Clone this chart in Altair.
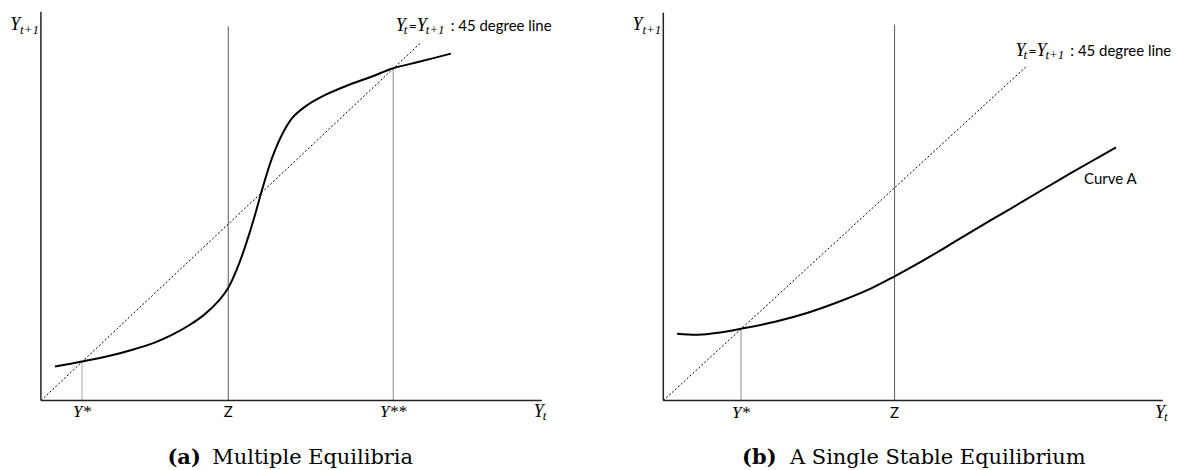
import altair as alt
import pandas as pd

# ---- panel (a): multiple equilibria (units chosen so the 45 degree line is y = x)
a_curve_x = [3.7, 10.8, 18.1, 24.1, 29.9, 34.6, 39.1, 43.0, 47.0, 49.3, 52.2, 54.9,
             56.7, 58.0, 60.9, 63.5, 66.1, 69.8, 75.1, 81.1, 87.1, 92.7, 99.5, 107.9]
a_curve_y = [9.5, 10.9, 12.5, 14.2, 16.2, 18.4, 21.1, 24.0, 28.1, 31.5, 38.4, 46.8,
             53.2, 58.2, 68.0, 74.4, 78.9, 82.3, 85.5, 88.2, 90.5, 92.8, 94.6, 96.9]
a_ticks = ["Y*", "Z", "Y**"]
a_tick_x = [10.8, 49.3, 92.7]
a_guide_top = [10.9, 104.5, 92.8]
a_guide_color = ["#a6a6a6", "#595959", "#8c8c8c"]
a_axis_end = (131.8, 108.6)
a_caption = ["(a)", "Multiple Equilibria"]

# ---- panel (b): a single stable equilibrium
b_curve_x = [3.8, 9.6, 15.1, 21.4, 30.8, 39.8, 48.9, 57.1, 63.7, 72.0, 81.0, 90.1,
             99.5, 108.5, 117.6, 124.7]
b_curve_y = [20.0, 19.7, 20.3, 21.5, 23.6, 26.3, 29.8, 33.5, 37.2, 42.2, 48.0, 53.9,
             59.9, 65.7, 71.4, 75.8]
b_ticks = ["Y*", "Z"]
b_tick_x = [21.4, 63.7]
b_guide_top = [21.5, 112.5]
b_guide_color = ["#8c8c8c", "#595959"]
b_axis_end = (137.6, 116.1)
b_caption = ["(b)", "A Single Stable Equilibrium"]

diag = [0, 100]

PANEL_W, PANEL_H = 582, 454
SANS = "Lato"
MATH = "Liberation Serif"
CAP = "DejaVu Serif"


def make_scales(ox, oy, ux, uy):
    # ox/oy: pixel position of the origin inside the panel, ux/uy: pixels per unit
    xs = alt.Scale(domain=[-ox / ux, (PANEL_W - ox) / ux], nice=False, zero=False)
    ys = alt.Scale(domain=[-(PANEL_H - oy) / uy, oy / uy], nice=False, zero=False)
    return xs, ys


def label(x, y, s, sc, font=SANS, size=15, style="normal", weight="normal",
          align="left", dx=0, dy=0):
    df = pd.DataFrame({"x": [x], "y": [y], "s": [s]})
    return alt.Chart(df).mark_text(
        font=font, fontSize=size, fontStyle=style, fontWeight=weight,
        align=align, baseline="alphabetic", dx=dx, dy=dy, color="black"
    ).encode(
        x=alt.X("x:Q", scale=sc[0], axis=None),
        y=alt.Y("y:Q", scale=sc[1], axis=None),
        text="s:N",
    )


def panel(sc, cx, cy, ticks, tick_x, guide_top, guide_color, axis_end,
          tick_y, ylab, diag_lab, caption, cap_y, extra=None):
    xs, ys = sc
    X = lambda f: alt.X(f, scale=xs, axis=None)
    Y = lambda f: alt.Y(f, scale=ys, axis=None)

    guides = alt.Chart(pd.DataFrame({"x": tick_x, "top": guide_top, "c": guide_color})).mark_rule(
        strokeWidth=1
    ).encode(x=X("x:Q"), y=Y("top:Q"), y2=alt.datum(0), color=alt.Color("c:N", scale=None))

    axes_df = pd.DataFrame({"x": [0, 0], "x2": [axis_end[0], 0],
                            "y": [0, 0], "y2": [0, axis_end[1]]})
    axes = alt.Chart(axes_df).mark_rule(color="#222222", strokeWidth=1.5).encode(
        x=X("x:Q"), x2="x2:Q", y=Y("y:Q"), y2="y2:Q")

    line45 = alt.Chart(pd.DataFrame({"x": diag, "y": diag})).mark_line(
        color="black", strokeWidth=1, strokeDash=[2, 2]
    ).encode(x=X("x:Q"), y=Y("y:Q"))

    curve = alt.Chart(pd.DataFrame({"x": cx, "y": cy})).mark_line(
        color="black", strokeWidth=2, interpolate="catmull-rom"
    ).encode(x=X("x:Q"), y=Y("y:Q"))

    layers = [guides, line45, curve, axes]

    for t, x in zip(ticks, tick_x):
        if t == "Z":
            layers.append(label(x, tick_y, t, sc, align="center"))
        else:
            layers.append(label(x, tick_y, t, sc, font=MATH, size=17, style="italic", align="center"))

    # Y_t at the end of the x axis
    layers.append(label(axis_end[0] - 0.8, tick_y, "Y", sc, font=MATH, size=18, style="italic", align="center"))
    layers.append(label(axis_end[0] - 0.8, tick_y, "t", sc, font=MATH, size=13, style="italic", dx=4, dy=3))

    # Y_{t+1} at the top of the y axis
    layers.append(label(ylab[0], ylab[1], "Y", sc, font=MATH, size=18, style="italic"))
    layers.append(label(ylab[0], ylab[1], "t+1", sc, font=MATH, size=13, style="italic", dx=10, dy=4))

    # Y_t = Y_{t+1} : 45 degree line
    lx, ly = diag_lab
    layers.append(label(lx, ly, "Y", sc, font=MATH, size=18, style="italic"))
    layers.append(label(lx, ly, "t", sc, font=MATH, size=13, style="italic", dx=8, dy=3))
    layers.append(label(lx, ly, "=", sc, size=14, dx=13))
    layers.append(label(lx, ly, "Y", sc, font=MATH, size=18, style="italic", dx=21))
    layers.append(label(lx, ly, "t+1", sc, font=MATH, size=13, style="italic", dx=30, dy=3))
    layers.append(label(lx, ly, ": 45 degree line", sc, size=15, dx=55))

    if extra is not None:
        layers.append(extra)

    # caption below the panel
    layers.append(label(caption[0], cap_y, caption[2], sc, font=CAP, size=21, weight="bold"))
    layers.append(label(caption[1], cap_y, caption[3], sc, font=CAP, size=21))

    return alt.layer(*layers).properties(width=PANEL_W, height=PANEL_H)


sc_a = make_scales(33, 393, 3.81, 3.59)
sc_b = make_scales(75, 393, 3.64, 3.35)

chart_a = panel(sc_a, a_curve_x, a_curve_y, a_ticks, a_tick_x, a_guide_top, a_guide_color,
                a_axis_end, -4.7, (-8.1, 103.6), (93.4, 103.1),
                (33.3, 45.1, a_caption[0], a_caption[1]), -17.8)

curve_a_label = label(115.9, 64.8, "Curve A", sc_b)
chart_b = panel(sc_b, b_curve_x, b_curve_y, b_ticks, b_tick_x, b_guide_top, b_guide_color,
                b_axis_end, -5.1, (-8.5, 111.0), (97.0, 103.0),
                (21.7, 34.9, b_caption[0], b_caption[1]), -19.1, extra=curve_a_label)

chart = alt.hconcat(chart_a, chart_b, spacing=0, bounds="flush").properties(
    padding=0
).configure_view(strokeWidth=0)

chart.save("out.html", embed_options={"renderer": "svg", "actions": False})
